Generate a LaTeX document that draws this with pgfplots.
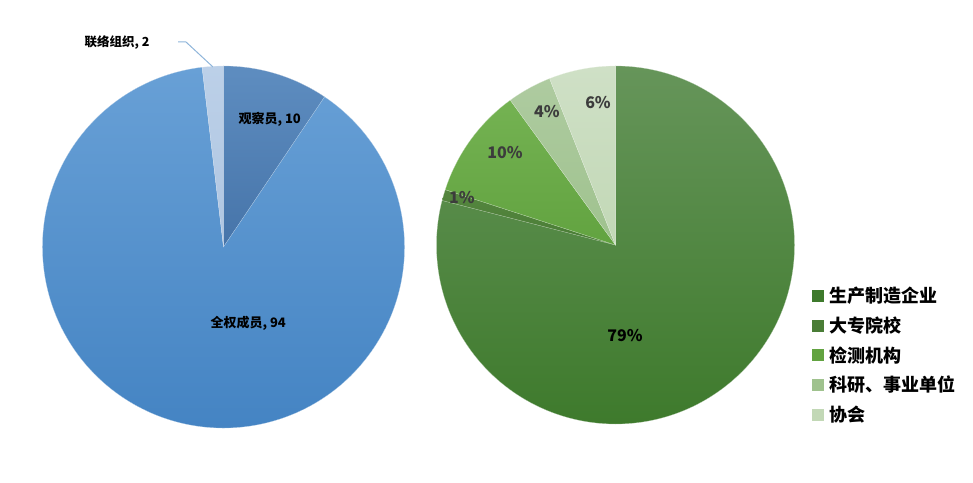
\documentclass[border=0pt]{standalone}
\usepackage{pgfplots}
\usepackage{pgfplotstable}
\pgfplotsset{compat=1.18}
\usepackage{fontspec}
\setmainfont{Noto Sans CJK SC}

\definecolor{memTop}{HTML}{68A0D6}
\definecolor{memBot}{HTML}{4282C2}
\definecolor{obsTop}{HTML}{5E8DC0}
\definecolor{obsBot}{HTML}{4674A9}
\definecolor{liaTop}{HTML}{BCD0E8}
\definecolor{liaBot}{HTML}{AFC6E2}
\definecolor{manTop}{HTML}{66955A}
\definecolor{manBot}{HTML}{3E7A2C}
\definecolor{uniTop}{HTML}{55863F}
\definecolor{uniBot}{HTML}{4A7D36}
\definecolor{tesTop}{HTML}{74B252}
\definecolor{tesBot}{HTML}{62A340}
\definecolor{sciTop}{HTML}{AECBA0}
\definecolor{sciBot}{HTML}{9FC28E}
\definecolor{assTop}{HTML}{CFE0C6}
\definecolor{assBot}{HTML}{C2D8B6}
\definecolor{pctText}{HTML}{3C3C3C}
\definecolor{leader}{HTML}{8FB5DA}

% membership, counted clockwise from the top
\pgfplotstableread{
name value top bot
obs 10 obsTop obsBot
mem 94 memTop memBot
lia 2 liaTop liaBot
}\membertable

% member types in percent, clockwise from the top
\pgfplotstableread{
name value top bot
man 79 manTop manBot
uni 1 uniTop uniBot
tes 10 tesTop tesBot
sci 4 sciTop sciBot
ass 6 assTop assBot
}\typetable

% #1 table, #2 centre x, #3 centre y, #4 radius
\newcommand{\drawpie}[4]{%
  \pgfplotstablegetrowsof{#1}%
  \pgfmathtruncatemacro{\lastrow}{\pgfplotsretval-1}%
  \def\pietotal{0}%
  \pgfplotsforeachungrouped \i in {0,...,\lastrow}{%
    \pgfplotstablegetelem{\i}{value}\of{#1}%
    \pgfmathsetmacro{\pietotal}{\pietotal+\pgfplotsretval}%
  }%
  \def\piecum{0}%
  \pgfplotsforeachungrouped \i in {0,...,\lastrow}{%
    \pgfplotstablegetelem{\i}{value}\of{#1}\let\v=\pgfplotsretval
    \pgfplotstablegetelem{\i}{top}\of{#1}\let\ct=\pgfplotsretval
    \pgfplotstablegetelem{\i}{bot}\of{#1}\let\cb=\pgfplotsretval
    \pgfmathsetmacro{\sa}{90-\piecum/\pietotal*360}%
    \pgfmathsetmacro{\piecum}{\piecum+\v}%
    \pgfmathsetmacro{\ea}{90-\piecum/\pietotal*360}%
    \edef\doslice{\noexpand\path[top color=\ct, bottom color=\cb, draw=white!60!\cb, line width=0.2pt]
      (axis cs:#2,#3) -- ++(\sa:#4pt) arc[start angle=\sa, end angle=\ea, radius=#4pt] -- cycle;}%
    \doslice
  }%
}

\begin{document}
\begin{tikzpicture}
\begin{axis}[
  x=1pt, y=1pt,
  xmin=0, xmax=973, ymin=0, ymax=482,
  hide axis,
  clip=false,
  legend style={
    at={(812/973,195/482)}, anchor=north west,
    draw=none, fill=none,
    font=\fontsize{18}{20}\selectfont\bfseries,
    row sep=12.5pt,
    inner sep=0pt,
    nodes={inner sep=0pt, outer sep=0pt},
  },
  legend cell align=left,
]
\path (axis cs:0,0) rectangle (axis cs:973,482);

\drawpie{\membertable}{223.5}{235}{181}
\drawpie{\typetable}{615.5}{237}{179}

\draw[leader, line width=1pt] (axis cs:178,440) -- (axis cs:186,440) -- (axis cs:213,415);

\node[anchor=west, font=\fontsize{12.5}{14}\selectfont\bfseries] at (axis cs:81,440) {联络组织, 2};
\node[anchor=west, font=\fontsize{13}{15}\selectfont\bfseries] at (axis cs:235,363) {观察员, 10};
\node[anchor=west, font=\fontsize{13}{15}\selectfont\bfseries] at (axis cs:207,159) {全权成员, 94};

\node[text=pctText, font=\fontsize{16}{18}\selectfont\bfseries] at (axis cs:598,379) {6\%};
\node[text=pctText, font=\fontsize{16}{18}\selectfont\bfseries] at (axis cs:547,370) {4\%};
\node[text=pctText, font=\fontsize{16}{18}\selectfont\bfseries] at (axis cs:505,329) {10\%};
\node[text=pctText, font=\fontsize{16}{18}\selectfont\bfseries] at (axis cs:462,284) {1\%};
\node[text=black, font=\fontsize{16}{18}\selectfont\bfseries] at (axis cs:625,146) {79\%};

\addlegendimage{legend image code/.code={\fill[manBot] (0pt,-5.5pt) rectangle (11pt,5.5pt); \path (17pt,0pt);}}
\addlegendentry{生产制造企业}
\addlegendimage{legend image code/.code={\fill[uniBot] (0pt,-5.5pt) rectangle (11pt,5.5pt); \path (17pt,0pt);}}
\addlegendentry{大专院校}
\addlegendimage{legend image code/.code={\fill[tesBot] (0pt,-5.5pt) rectangle (11pt,5.5pt); \path (17pt,0pt);}}
\addlegendentry{检测机构}
\addlegendimage{legend image code/.code={\fill[sciBot] (0pt,-5.5pt) rectangle (11pt,5.5pt); \path (17pt,0pt);}}
\addlegendentry{科研、事业单位}
\addlegendimage{legend image code/.code={\fill[assBot] (0pt,-5.5pt) rectangle (11pt,5.5pt); \path (17pt,0pt);}}
\addlegendentry{协会}
\end{axis}
\end{tikzpicture}
\end{document}
